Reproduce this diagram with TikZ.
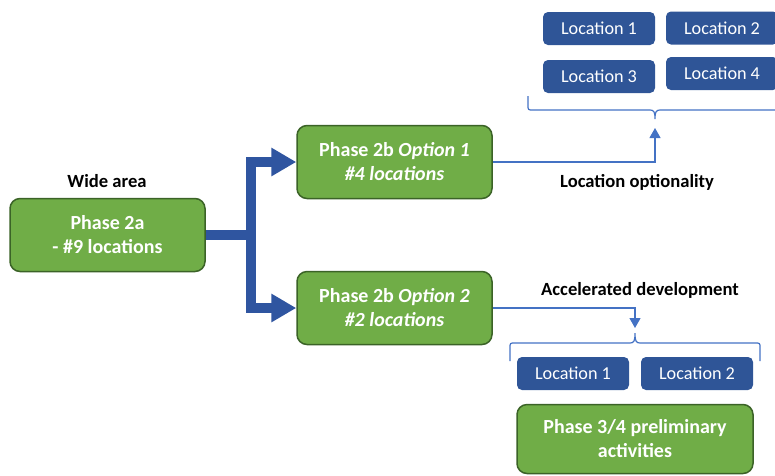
\documentclass[tikz,border=0pt]{standalone}
\usepackage{fontspec}
\setmainfont{Carlito}
\usetikzlibrary{arrows.meta}
\definecolor{gfill}{HTML}{70AD47}
\definecolor{gdraw}{HTML}{3B6327}
\definecolor{bbox}{HTML}{2F5597}
\definecolor{barrow}{HTML}{2F55A0}
\definecolor{thinb}{HTML}{4472C4}
\tikzset{
  greenbox/.style={draw=gdraw, line width=1.5pt, fill=gfill, rounded corners=10pt,
    text=white, font=\fontsize{20}{24}\selectfont\bfseries, align=center, inner sep=0pt},
  locbox/.style={fill=bbox, rounded corners=5pt, text=white,
    font=\fontsize{18.2}{20}\selectfont, minimum width=112pt, minimum height=33pt, inner sep=0pt},
  lbl/.style={font=\fontsize{18.6}{20}\selectfont\bfseries, text=black},
  bigline/.style={draw=barrow, line width=10pt},
  bigtip/.style={-{Triangle[length=25pt,width=27pt]}},
  thinline/.style={draw=thinb, line width=1.2pt},
  thintip/.style={-{Triangle[length=10pt,width=11pt]}},
  bracepath/.style={draw=thinb, line width=1.2pt}
}
\begin{document}
\begin{tikzpicture}[x=1pt,y=-1pt]
\useasboundingbox (0,0) rectangle (775,475);
% green boxes
\node[greenbox, minimum width=195pt, minimum height=73pt] (p2a) at (107.5,235) {Phase 2a\\- \#9 locations};
\node[greenbox, minimum width=195pt, minimum height=73pt] (o1) at (394.5,162) {Phase 2b \textit{Option 1}\\\textit{\#4 locations}};
\node[greenbox, minimum width=195pt, minimum height=73pt] (o2) at (394.5,308) {Phase 2b \textit{Option 2}\\\textit{\#2 locations}};
\node[greenbox, minimum width=236pt, minimum height=69pt] (p34) at (635,439) {Phase 3/4 preliminary\\activities};
% location boxes
\node[locbox] (t1) at (599,28.5) {Location 1};
\node[locbox] (t2) at (722,28) {Location 2};
\node[locbox] (t3) at (599,76.5) {Location 3};
\node[locbox] (t4) at (722,73.5) {Location 4};
\node[locbox] (b1) at (573,373.5) {Location 1};
\node[locbox] (b2) at (697,373.5) {Location 2};
% labels
\node[lbl] (wa) at (107,181) {Wide area};
\node[lbl] (lo) at (637,182) {Location optionality};
\node[lbl] (ad) at (640,290) {Accelerated development};
% thick arrows
\coordinate (j) at (251,235);
\draw[bigline] (p2a.east) -- (j);
\draw[bigline, bigtip] (j) |- (o1.west);
\draw[bigline, bigtip] (j) |- (o2.west);
% thin arrows
\coordinate (tc) at (655,128);
\coordinate (bc) at (635,328);
\draw[thinline, thintip] (o1.east) -| (tc);
\draw[thinline, thintip] (o2.east) -| (bc);
% braces
\draw[bracepath] (528,96) -- (528,105) .. controls (528,110) .. (533,110) -- (650,110)
  .. controls (654,110) and (655,112) .. (655,119) .. controls (655,112) and (656,110) .. (660,110) -- (776,110);
\draw[bracepath] (510,361) -- (510,348) .. controls (510,343) .. (515,343) -- (630,343)
  .. controls (634,343) and (635,341) .. (635,333) .. controls (635,341) and (636,343) .. (640,343)
  -- (755,343) .. controls (760,343) .. (760,348) -- (760,361);
\end{tikzpicture}
\end{document}
